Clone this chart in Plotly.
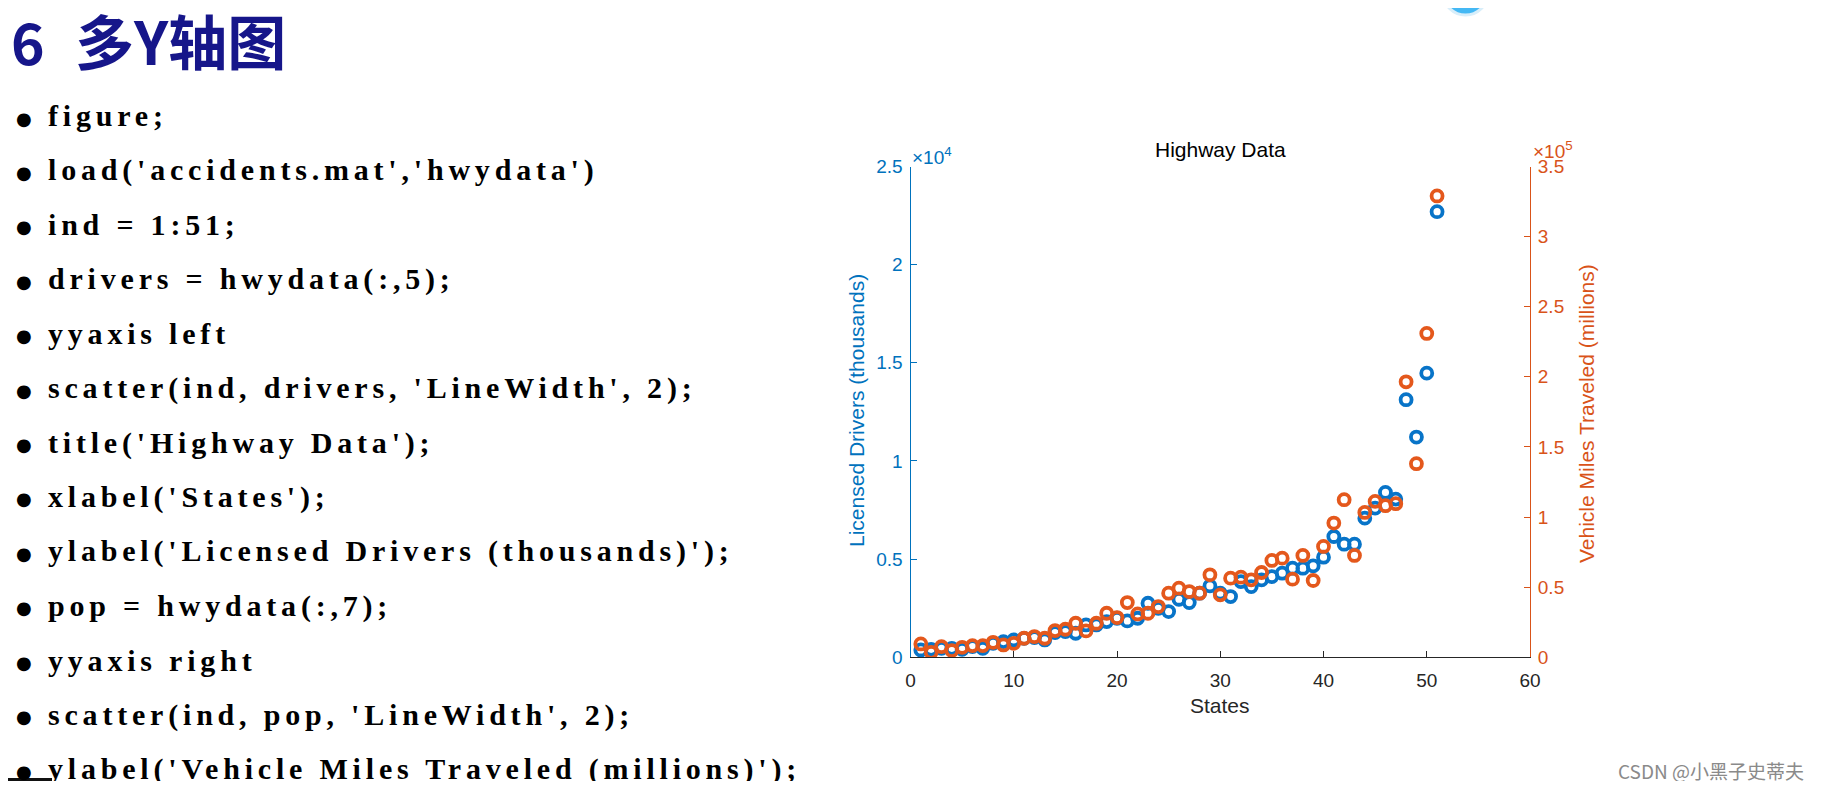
import plotly.graph_objects as go

# page is 1821x789; the html body keeps its default 8px margin
PAGE_W, PAGE_H, M = 1821, 789, 8
W, H = PAGE_W - 2 * M, PAGE_H - 2 * M

# ---------------- data ----------------
states = list(range(1, 52))
drivers = [374, 408, 459, 459, 408, 544, 459, 714, 799, 884,
           969, 1003, 884, 1258, 1309, 1224, 1649, 1649, 1819, 1989,
           1853, 1989, 2754, 2499, 2329, 2958, 2788, 3264, 3638, 3264,
           3094, 3859, 3604, 3944, 4114, 4284, 4539, 4539, 4658, 5100,
           6154, 5763, 5763, 7089, 7599, 8398, 8058, 13122, 11220, 14475,
           22699]
vmt = [9524, 3571, 7619, 4762, 7143, 8333, 8333, 10714, 8810, 10000,
       13571, 14762, 13571, 19048, 20000, 24286, 18810, 24286, 31429, 28333,
       39048, 30952, 31429, 36190, 45714, 49286, 46905, 45714, 58810, 44524,
       56429, 57143, 55238, 60476, 69048, 70714, 55714, 72619, 54762, 79048,
       95714, 112381, 72619, 103333, 111190, 108095, 109524, 196433, 138075, 230933,
       329007]

x_ticks = [0, 10, 20, 30, 40, 50, 60]
left_ticks = [0, 5000, 10000, 15000, 20000, 25000]
left_tick_text = ["0", "0.5", "1", "1.5", "2", "2.5"]
right_ticks = [0, 50000, 100000, 150000, 200000, 250000, 300000, 350000]
right_tick_text = ["0", "0.5", "1", "1.5", "2", "2.5", "3", "3.5"]

heading_num = "6"
heading_text = "多Y轴图"
code_lines = [
    "figure;",
    "load('accidents.mat','hwydata')",
    "ind = 1:51;",
    "drivers = hwydata(:,5);",
    "yyaxis left",
    "scatter(ind, drivers, 'LineWidth', 2);",
    "title('Highway Data');",
    "xlabel('States');",
    "ylabel('Licensed Drivers (thousands)');",
    "pop = hwydata(:,7);",
    "yyaxis right",
    "scatter(ind, pop, 'LineWidth', 2);",
    "ylabel('Vehicle Miles Traveled (millions)');",
]
chart_title = "Highway Data"
x_label = "States"
y_left_label = "Licensed Drivers (thousands)"
y_right_label = "Vehicle Miles Traveled (millions)"
left_exp = "×10<sup>4</sup>"
right_exp = "×10<sup>5</sup>"
watermark = "CSDN @小黑子史蒂夫"

# ---------------- styling ----------------
BLUE = "#0072BD"
ORANGE = "#D95319"
BLUE_MK = "#0874C8"
ORANGE_MK = "#E4581C"
AXC = "#262626"
SANS = "Liberation Sans, Arial, sans-serif"
TICK = 19
LAB = 21
CODE_FONT = "Liberation Serif"


def px(x):
    return (x - M) / W


def py(y):
    return 1 - (y - M) / H


fig = go.Figure()
fig.add_trace(go.Scatter(
    x=states, y=drivers, mode="markers", yaxis="y", showlegend=False,
    marker=dict(symbol="circle-open", size=11, color=BLUE_MK, line=dict(width=3.8, color=BLUE_MK)),
))
fig.add_trace(go.Scatter(
    x=states, y=vmt, mode="markers", yaxis="y2", showlegend=False,
    marker=dict(symbol="circle-open", size=11, color=ORANGE_MK, line=dict(width=3.8, color=ORANGE_MK)),
))

annotations = []
annotations.append(dict(text=heading_num, x=px(9), y=py(40), xanchor="left", yanchor="middle",
                        font=dict(family="Noto Sans CJK SC", size=57, color="#16168a", weight="bold")))
annotations.append(dict(text=heading_text, x=px(73), y=py(40), xanchor="left", yanchor="middle",
                        font=dict(family="Noto Sans CJK SC", size=59, color="#16168a", weight="bold")))
for k, line in enumerate(code_lines):
    yy = 116 + 54.42 * k
    annotations.append(dict(text="●", x=px(24), y=py(yy + 2), xanchor="center", yanchor="middle",
                            font=dict(family="DejaVu Sans", size=18, color="black")))
    annotations.append(dict(text=line, x=px(46), y=py(yy), xanchor="left", yanchor="middle", align="left",
                            font=dict(family=CODE_FONT, size=30, color="black", weight="bold")))
annotations.append(dict(text=chart_title, x=px(1220), y=py(149), xanchor="center", yanchor="middle",
                        font=dict(family=SANS, size=LAB, color="black")))
annotations.append(dict(text=x_label, x=px(1220), y=py(705), xanchor="center", yanchor="middle",
                        font=dict(family=SANS, size=LAB, color=AXC)))
annotations.append(dict(text=y_left_label, x=px(857), y=py(411), xanchor="center", yanchor="middle",
                        textangle=-90, font=dict(family=SANS, size=LAB, color=BLUE)))
annotations.append(dict(text=y_right_label, x=px(1586), y=py(414), xanchor="center", yanchor="middle",
                        textangle=-90, font=dict(family=SANS, size=LAB, color=ORANGE)))
annotations.append(dict(text=left_exp, x=px(910), y=py(156), xanchor="left", yanchor="middle",
                        font=dict(family=SANS, size=TICK, color=BLUE)))
annotations.append(dict(text=right_exp, x=px(1531), y=py(150), xanchor="left", yanchor="middle",
                        font=dict(family=SANS, size=TICK, color=ORANGE)))
annotations.append(dict(text=watermark, x=px(1806), y=py(770), xanchor="right", yanchor="middle",
                        font=dict(family="Noto Sans CJK SC", size=19, color="#8a8a8a")))
for a in annotations:
    a.update(xref="paper", yref="paper", showarrow=False)

shapes = [
    dict(type="circle", xref="paper", yref="paper", x0=px(1443), x1=px(1488), y0=py(15), y1=py(-30),
         fillcolor="#44b8f4", line=dict(color="#d8eefa", width=3)),
    dict(type="rect", xref="paper", yref="paper", x0=px(8), x1=px(52), y0=py(789), y1=py(778),
         fillcolor="#111111", line=dict(width=0)),
]

fig.update_layout(
    width=W, height=H, margin=dict(l=0, r=0, t=0, b=0),
    paper_bgcolor="white", plot_bgcolor="white",
    annotations=annotations, shapes=shapes,
    xaxis=dict(domain=[px(910.5), px(1530)], range=[0, 60], tickvals=x_ticks,
               ticks="inside", ticklen=6, tickcolor=AXC, showline=True, linecolor=AXC, linewidth=1,
               ticklabelstandoff=6, automargin=False,
               showgrid=False, zeroline=False, tickfont=dict(family=SANS, size=TICK, color=AXC)),
    yaxis=dict(domain=[py(657.3), py(166.5)], range=[0, 25000], tickvals=left_ticks, ticktext=left_tick_text,
               side="left", ticks="inside", ticklen=6, tickcolor=BLUE, showline=True, linecolor=BLUE,
               ticklabelstandoff=3, automargin=False,
               linewidth=1, showgrid=False, zeroline=False, tickfont=dict(family=SANS, size=TICK, color=BLUE)),
    yaxis2=dict(range=[0, 350000], tickvals=right_ticks, ticktext=right_tick_text, overlaying="y",
                side="right", anchor="x", ticks="inside", ticklen=6, tickcolor=ORANGE, showline=True,
                ticklabelstandoff=3, automargin=False,
                linecolor=ORANGE, linewidth=1, showgrid=False, zeroline=False,
                tickfont=dict(family=SANS, size=TICK, color=ORANGE)),
)

# the slide's code text is set with expanded character spacing
post = """
var gd = document.getElementById('{plot_id}');
gd.querySelectorAll('.annotation-text').forEach(function(t){
  if ((t.style.fontFamily || '').indexOf('Liberation Serif') >= 0) { t.style.letterSpacing = '4.8px'; }
});
"""

fig.write_html("out.html", config={"displayModeBar": False}, post_script=post)
